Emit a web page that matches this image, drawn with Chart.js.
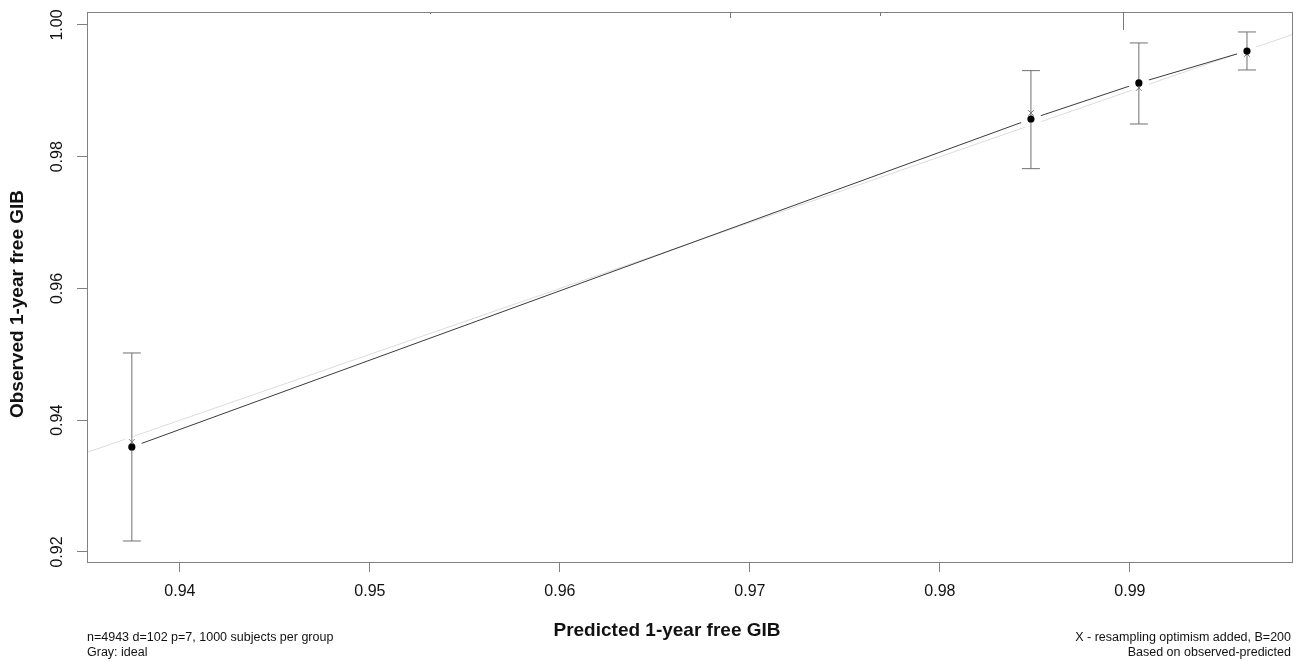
<!DOCTYPE html>
<html>
<head>
<meta charset="utf-8">
<script src="https://cdn.jsdelivr.net/npm/chart.js@4.4.1/dist/chart.umd.min.js"></script>
<style>
  body { margin: 0; background: #fff; }
  canvas { display: block; }
</style>
</head>
<body>
<canvas id="chart" width="1303" height="662"></canvas>
<script>
// calibration groups (1000 subjects each)
const predicted = [0.93747, 0.98479, 0.99047, 0.99616];
const observed  = [0.93594, 0.98573, 0.99120, 0.99605];
const corrected = [0.93670, 0.98664, 0.99044, 0.99560];
const lower     = [0.92167, 0.97819, 0.98497, 0.99317];
const upper     = [0.95021, 0.99307, 0.99727, 0.99894];

// distribution of predicted values (rug at top)
const rugX     = [0.95316, 0.96105, 0.96895, 0.97684, 0.98963];
const rugCount = [1, 0.5, 3, 2, 9];

const xTicks = [0.94, 0.95, 0.96, 0.97, 0.98, 0.99];
const yTicks = [0.92, 0.94, 0.96, 0.98, 1.00];
const xTickLabels = ['0.94', '0.95', '0.96', '0.97', '0.98', '0.99'];
const yTickLabels = ['0.92', '0.94', '0.96', '0.98', '1.00'];

const xRange = [0.93511, 0.99853];
const yRange = [0.91848, 1.00197];

const FONT = '"Liberation Sans", Arial, sans-serif';
const pts = (xs, ys) => xs.map((x, i) => ({ x: x, y: ys[i] }));

const datasets = [
  {
    label: 'observed',
    data: pts(predicted, observed),
    showLine: false,
    pointRadius: 3.6,
    pointBackgroundColor: '#000',
    pointBorderColor: '#000',
    pointBorderWidth: 0,
    order: 0
  },
  {
    label: 'bias corrected',
    data: pts(predicted, corrected),
    showLine: false,
    pointStyle: 'crossRot',
    pointRadius: 4,
    pointBorderColor: '#777',
    pointBorderWidth: 1,
    order: 1
  }
];

// one error bar per group, caps drawn with the 'line' point style
predicted.forEach((p, i) => {
  datasets.push({
    label: 'ci' + i,
    data: [{ x: p, y: lower[i] }, { x: p, y: upper[i] }],
    showLine: true,
    borderColor: '#707070',
    borderWidth: 1,
    pointStyle: 'line',
    pointRadius: 9,
    pointBorderColor: '#707070',
    pointBorderWidth: 1,
    order: 2
  });
});

datasets.push(
  {
    label: 'gap',
    data: pts(predicted, observed),
    showLine: false,
    pointStyle: 'circle',
    pointRadius: 10,
    pointBackgroundColor: '#ffffff',
    pointBorderColor: '#ffffff',
    pointBorderWidth: 1,
    order: 3
  },
  {
    label: 'apparent',
    data: pts(predicted, observed),
    showLine: true,
    borderColor: '#3a3a3a',
    borderWidth: 1,
    pointRadius: 0,
    order: 4
  },
  {
    label: 'ideal',
    data: pts(xRange, xRange),
    showLine: true,
    borderColor: '#dcdcdc',
    borderWidth: 1,
    pointRadius: 0,
    order: 5
  }
);

const decor = {
  id: 'decor',
  beforeDatasetsDraw(chart) {
    const { ctx, chartArea: a, scales: { x } } = chart;
    const maxCount = Math.max(...rugCount);
    ctx.save();
    ctx.strokeStyle = '#777';
    ctx.lineWidth = 1;
    rugX.forEach((v, i) => {
      const px = Math.round(x.getPixelForValue(v)) + 0.5;
      ctx.beginPath();
      ctx.moveTo(px, a.top);
      ctx.lineTo(px, a.top + 18 * rugCount[i] / maxCount);
      ctx.stroke();
    });
    ctx.restore();
  },
  afterDraw(chart) {
    const { ctx, chartArea: a, scales: { x, y } } = chart;
    ctx.save();
    // box
    ctx.strokeStyle = '#808080';
    ctx.lineWidth = 1;
    ctx.strokeRect(a.left + 0.5, a.top + 0.5, a.right - a.left, a.bottom - a.top);

    ctx.fillStyle = '#111';
    ctx.font = '16px ' + FONT;
    ctx.textAlign = 'center';
    ctx.textBaseline = 'middle';
    xTicks.forEach((v, i) => {
      ctx.fillText(xTickLabels[i], x.getPixelForValue(v), 592);
    });
    yTicks.forEach((v, i) => {
      ctx.save();
      ctx.translate(58, y.getPixelForValue(v));
      ctx.rotate(-Math.PI / 2);
      ctx.fillText(yTickLabels[i], 0, 0);
      ctx.restore();
    });

    ctx.font = 'bold 19px ' + FONT;
    ctx.fillText('Predicted 1-year free GIB', 667, 631);
    ctx.save();
    ctx.translate(18, 304);
    ctx.rotate(-Math.PI / 2);
    ctx.fillText('Observed 1-year free GIB', 0, 0);
    ctx.restore();

    ctx.font = '12.5px ' + FONT;
    ctx.textAlign = 'left';
    ctx.fillText('n=4943 d=102 p=7, 1000 subjects per group', 87, 638);
    ctx.fillText('Gray: ideal', 87, 653);
    ctx.textAlign = 'right';
    ctx.fillText('X - resampling optimism added, B=200', 1291, 638);
    ctx.fillText('Based on observed-predicted', 1291, 653);
    ctx.restore();
  }
};

new Chart(document.getElementById('chart'), {
  type: 'scatter',
  data: { datasets: datasets },
  options: {
    responsive: false,
    animation: false,
    layout: { padding: { top: 12, right: 11, left: 0, bottom: 0 } },
    plugins: {
      legend: { display: false },
      tooltip: { enabled: false }
    },
    scales: {
      x: {
        type: 'linear',
        min: xRange[0],
        max: xRange[1],
        afterBuildTicks: s => { s.ticks = xTicks.map(v => ({ value: v })); },
        afterFit: s => { s.height = 100; },
        ticks: { display: false },
        border: { display: false },
        grid: { drawOnChartArea: false, drawTicks: true, tickLength: 10, color: '#808080' }
      },
      y: {
        type: 'linear',
        min: yRange[0],
        max: yRange[1],
        afterBuildTicks: s => { s.ticks = yTicks.map(v => ({ value: v })); },
        afterFit: s => { s.width = 87; },
        ticks: { display: false },
        border: { display: false },
        grid: { drawOnChartArea: false, drawTicks: true, tickLength: 10, color: '#808080' }
      }
    }
  },
  plugins: [decor]
});
</script>
</body>
</html>
